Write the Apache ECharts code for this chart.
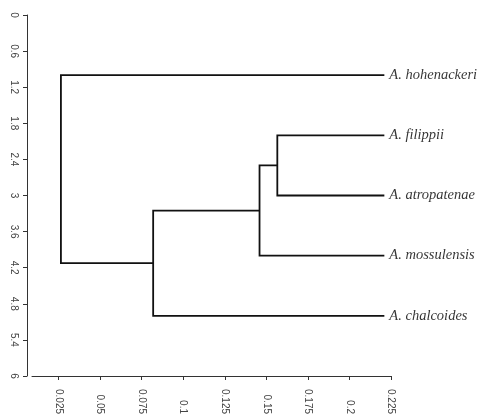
<!DOCTYPE html>
<html>
<head>
<meta charset="utf-8">
<script src="https://cdn.jsdelivr.net/npm/echarts@6/dist/echarts.min.js"></script>
<style>
  html, body { margin: 0; padding: 0; background: #fff; }
  #tree { width: 484px; height: 417px; }
</style>
</head>
<body>
<div id="tree"></div>
<script>
// leaves, top to bottom
const species = ['A. hohenackeri', 'A. filippii', 'A. atropatenae', 'A. mossulensis', 'A. chalcoides'];
const leafPos = [1, 2, 3, 4, 5];
const leafHeight = 0.221;

// merges: negative = leaf index (1-based), positive = earlier merge
const mergeLeft = [-2, -4, -5, -1];
const mergeRight = [-3, 1, 2, 3];
const mergeHeight = [0.1566, 0.1459, 0.0819, 0.0264];

const xTicks = [0.025, 0.05, 0.075, 0.1, 0.125, 0.15, 0.175, 0.2, 0.225];
const yTicks = [0, 0.6, 1.2, 1.8, 2.4, 3, 3.6, 4.2, 4.8, 5.4, 6];

// work out where each branch sits
const nodeY = [];
function childPos(c) {
  if (c < 0) return [leafHeight, leafPos[-c - 1]];
  return [mergeHeight[c - 1], nodeY[c - 1]];
}
const branches = [];
for (let i = 0; i < mergeHeight.length; i++) {
  const a = childPos(mergeLeft[i]);
  const b = childPos(mergeRight[i]);
  const h = mergeHeight[i];
  nodeY.push((a[1] + b[1]) / 2);
  branches.push({ coords: [a, [h, a[1]], [h, b[1]], b] });
}

const leafPoints = species.map((s, i) => ({ name: s, value: [leafHeight, leafPos[i]] }));

const axisText = { color: '#444', fontSize: 10, fontFamily: 'Liberation Sans' };

let myChart = echarts.init(document.getElementById('tree'));
let option = {
  animation: false,
  grid: { left: 32, right: 93, top: 15, bottom: 35 },
  xAxis: {
    type: 'value',
    position: 'bottom',
    min: 0.009,
    max: 0.225,
    splitLine: { show: false },
    axisLine: { show: true, onZero: false, lineStyle: { color: '#333', width: 1 } },
    axisTick: { show: true, length: 4, customValues: xTicks, lineStyle: { color: '#333' } },
    axisLabel: {
      customValues: xTicks,
      rotate: -90,
      align: 'right',
      verticalAlign: 'middle',
      margin: 38,
      formatter: v => String(+v.toFixed(3)),
      ...axisText,
    },
  },
  yAxis: {
    type: 'value',
    min: 0,
    max: 6,
    inverse: true,
    offset: 5,
    splitLine: { show: false },
    axisLine: { show: true, onZero: false, lineStyle: { color: '#333', width: 1 } },
    axisTick: { show: true, length: 4, customValues: yTicks, lineStyle: { color: '#333' } },
    axisLabel: {
      customValues: yTicks,
      rotate: -90,
      margin: 8,
      formatter: v => String(+v.toFixed(1)),
      ...axisText,
    },
  },
  series: [
    {
      type: 'lines',
      coordinateSystem: 'cartesian2d',
      polyline: true,
      silent: true,
      lineStyle: { color: '#111', width: 1.8, opacity: 1 },
      data: branches,
    },
    {
      type: 'scatter',
      symbolSize: 0,
      silent: true,
      label: {
        show: true,
        position: 'right',
        distance: 5,
        formatter: p => p.name,
        color: '#000',
        fontSize: 14.5,
        fontStyle: 'italic',
        fontFamily: 'Liberation Serif',
      },
      data: leafPoints,
    },
  ],
};
myChart.setOption(option);
</script>
</body>
</html>
